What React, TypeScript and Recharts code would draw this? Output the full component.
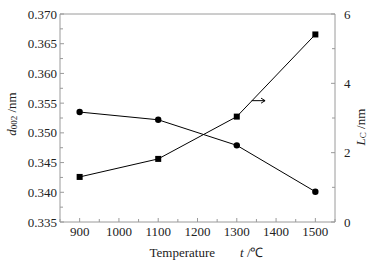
import { ComposedChart, Line, XAxis, YAxis, ReferenceLine } from 'recharts';

const temps = [900, 1100, 1300, 1500];
const d002 = [0.3535, 0.3522, 0.3479, 0.3401];
const lc = [1.3, 1.82, 3.04, 5.41];

const xTicks = [850, 900, 950, 1000, 1050, 1100, 1150, 1200, 1250, 1300, 1350, 1400, 1450, 1500, 1550];
const leftTicks = [0.335, 0.3375, 0.34, 0.3425, 0.345, 0.3475, 0.35, 0.3525, 0.355, 0.3575, 0.36, 0.3625, 0.365, 0.3675, 0.37];
const rightTicks = [0, 1, 2, 3, 4, 5, 6];

const data = temps.map((t, i) => ({ t, d002: d002[i], lc: lc[i] }));

const FONT = '"Liberation Serif", "Times New Roman", serif';
const AXIS = '#9a9a9a';
const TEXT = '#222';

const XTick = ({ x, y, payload }: any) => {
  const major = payload.value % 100 === 0;
  return (
    <g>
      <line x1={x} x2={x} y1={y} y2={y - (major ? 4 : 3)} stroke={AXIS} />
      {major && (
        <text x={x} y={y + 14} textAnchor="middle" fontSize={13} fontFamily={FONT} fill={TEXT}>
          {payload.value}
        </text>
      )}
    </g>
  );
};

const LeftTick = ({ x, y, payload }: any) => {
  const major = Math.round(payload.value * 10000) % 50 === 0;
  return (
    <g>
      <line x1={x} x2={x + (major ? 4 : 3)} y1={y} y2={y} stroke={AXIS} />
      {major && (
        <text x={x - 3} y={y + 4.5} textAnchor="end" fontSize={13} fontFamily={FONT} fill={TEXT}>
          {payload.value.toFixed(3)}
        </text>
      )}
    </g>
  );
};

const RightTick = ({ x, y, payload }: any) => {
  const major = payload.value % 2 === 0;
  return (
    <g>
      <line x1={x} x2={x - (major ? 4 : 3)} y1={y} y2={y} stroke={AXIS} />
      {major && (
        <text x={x + 9} y={y + 4.5} textAnchor="start" fontSize={13} fontFamily={FONT} fill={TEXT}>
          {payload.value}
        </text>
      )}
    </g>
  );
};

const LeftLabel = ({ viewBox }: any) => {
  const cx = 11;
  const cy = viewBox.y + viewBox.height / 2 - 4;
  return (
    <text
      x={cx}
      y={cy}
      transform={`rotate(-90 ${cx} ${cy})`}
      textAnchor="middle"
      dominantBaseline="central"
      fontSize={13}
      fontFamily={FONT}
      fill={TEXT}
    >
      <tspan fontStyle="italic">d</tspan>
      <tspan fontSize={9} dy={3}>002</tspan>
      <tspan dy={-3}> /nm</tspan>
    </text>
  );
};

const RightLabel = ({ viewBox }: any) => {
  const cx = 360;
  const cy = viewBox.y + viewBox.height / 2 + 9;
  return (
    <text
      x={cx}
      y={cy}
      transform={`rotate(-90 ${cx} ${cy})`}
      textAnchor="middle"
      dominantBaseline="central"
      fontSize={13}
      fontFamily={FONT}
      fill={TEXT}
    >
      <tspan fontStyle="italic">L</tspan>
      <tspan fontSize={9} dy={3}>C</tspan>
      <tspan dy={-3}> /nm</tspan>
    </text>
  );
};

const XLabel = ({ viewBox }: any) => {
  const cx = viewBox.x + viewBox.width / 2 + 9;
  return (
    <text x={cx} y={257} textAnchor="middle" fontSize={13} fontFamily={FONT} fill={TEXT}>
      Temperature
      <tspan dx={25} fontStyle="italic">t</tspan>
      <tspan> /℃</tspan>
    </text>
  );
};

const Square = (p: any) => (
  <rect key={`sq-${p.index}`} x={p.cx - 3} y={p.cy - 3} width={6} height={6} fill="#000" />
);

const Arrow = (p: any) => (
  <g>
    <line x1={p.x1} y1={p.y1} x2={p.x2} y2={p.y2} stroke="#000" strokeWidth={1} />
    <polyline
      points={`${p.x2 - 4},${p.y2 - 2.5} ${p.x2},${p.y2} ${p.x2 - 4},${p.y2 + 2.5}`}
      fill="none"
      stroke="#000"
      strokeWidth={1}
    />
  </g>
);

export default function App() {
  return (
    <div style={{ position: 'absolute', left: 0, top: 0, background: '#fff' }}>
      <ComposedChart width={373} height={264} data={data} margin={{ top: 14, right: 0, bottom: 0, left: 0 }}>
        <XAxis
          dataKey="t"
          type="number"
          domain={[850, 1550]}
          ticks={xTicks}
          interval={0}
          height={42}
          tickSize={0}
          tickMargin={0}
          tickLine={false}
          axisLine={{ stroke: AXIS }}
          tick={<XTick />}
          label={{ content: XLabel }}
        />
        <YAxis
          yAxisId="left"
          type="number"
          domain={[0.335, 0.37]}
          ticks={leftTicks}
          interval={0}
          width={60}
          tickSize={0}
          tickMargin={0}
          tickLine={false}
          axisLine={{ stroke: AXIS }}
          tick={<LeftTick />}
          label={{ content: LeftLabel }}
        />
        <YAxis
          yAxisId="right"
          orientation="right"
          type="number"
          domain={[0, 6]}
          ticks={rightTicks}
          interval={0}
          width={38}
          tickSize={0}
          tickMargin={0}
          tickLine={false}
          axisLine={{ stroke: AXIS }}
          tick={<RightTick />}
          label={{ content: RightLabel }}
        />
        <ReferenceLine yAxisId="left" y={0.37} stroke={AXIS} />
        <Line
          yAxisId="left"
          dataKey="d002"
          stroke="#000"
          strokeWidth={1}
          dot={{ r: 3.2, fill: '#000', stroke: '#000', strokeWidth: 0 }}
          isAnimationActive={false}
        />
        <Line
          yAxisId="right"
          dataKey="lc"
          stroke="#000"
          strokeWidth={1}
          dot={Square}
          isAnimationActive={false}
        />
        <ReferenceLine
          yAxisId="right"
          segment={[
            { x: 1338, y: 3.5 },
            { x: 1372, y: 3.5 },
          ]}
          shape={Arrow}
        />
      </ComposedChart>
    </div>
  );
}
